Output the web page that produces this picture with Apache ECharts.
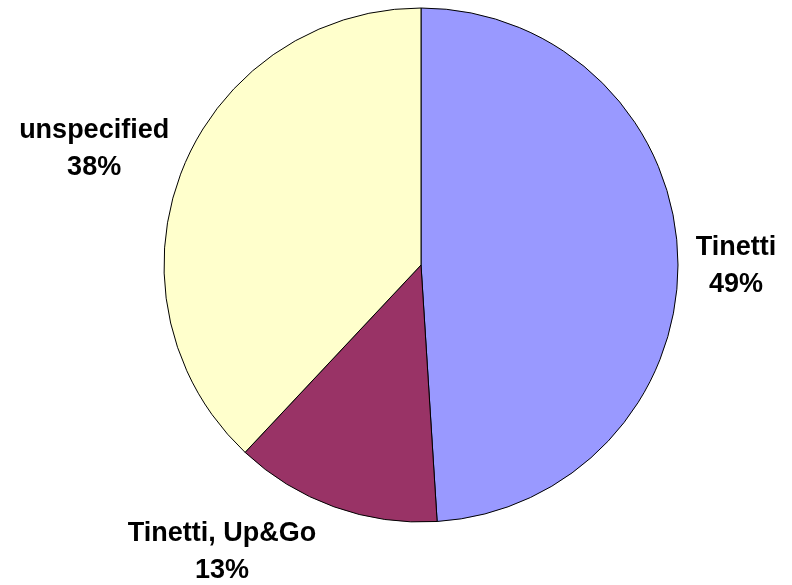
<!DOCTYPE html>
<html>
<head>
<meta charset="utf-8">
<script src="https://cdn.jsdelivr.net/npm/echarts@6/dist/echarts.min.js"></script>
<style>
html,body{margin:0;padding:0;background:#fff;}
#chart{width:792px;height:585px;}
</style>
</head>
<body>
<div id="chart"></div>
<script>
// ---- data ----
const categories = ['Tinetti', 'Tinetti, Up&Go', 'unspecified'];
const values = [49, 13, 38];
const colors = ['#9999FF', '#993366', '#FFFFCC'];

// ---- layout (not data) ----
const CX = 421, CY = 265, R = 257, GAP = 12;
const LABEL_NUDGE = [[6, 11], [-76, -1], [-7, -3]];

const total = values.reduce((a, b) => a + b, 0);
const mids = [];
let cum = 0;
values.forEach(v => { mids.push(2 * Math.PI * (cum + v / 2) / total); cum += v; });

const chart = echarts.init(document.getElementById('chart'));
chart.setOption({
  animation: false,
  series: [{
    type: 'pie',
    center: [CX, CY],
    radius: R,
    startAngle: 90,
    clockwise: true,
    avoidLabelOverlap: false,
    itemStyle: { borderColor: '#000', borderWidth: 1 },
    label: {
      show: true,
      position: 'outside',
      formatter: p => p.name + '\n' + Math.round(p.percent) + '%',
      fontFamily: '"Liberation Sans", Arial, sans-serif',
      fontWeight: 'bold',
      fontSize: 27,
      lineHeight: 37,
      color: '#000',
      align: 'center'
    },
    labelLine: { show: false },
    labelLayout: function (p) {
      const i = p.dataIndex;
      const t = mids[i];
      const dx = Math.sin(t), dy = -Math.cos(t);
      const w = p.labelRect.width, h = p.labelRect.height;
      return {
        x: CX + dx * (R + GAP) + dx * w / 2 + LABEL_NUDGE[i][0],
        y: CY + dy * (R + GAP) + dy * h / 2 + LABEL_NUDGE[i][1],
        align: 'center',
        verticalAlign: 'middle'
      };
    },
    emphasis: { disabled: true },
    data: categories.map((c, i) => ({ name: c, value: values[i], itemStyle: { color: colors[i] } }))
  }]
});
</script>
</body>
</html>
